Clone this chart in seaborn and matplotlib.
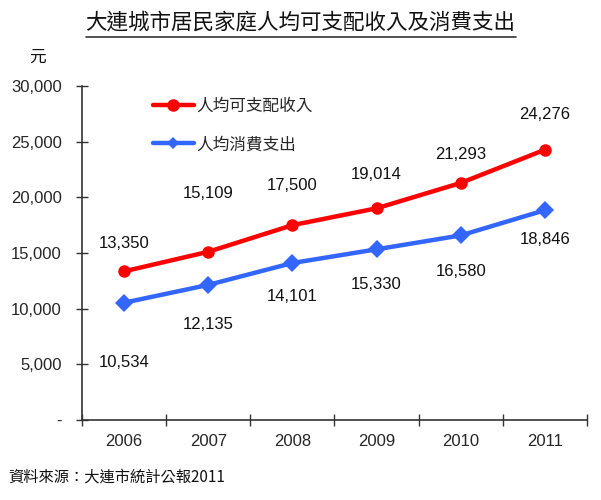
import matplotlib
matplotlib.use("Agg")
import matplotlib.pyplot as plt
import seaborn as sns
import pandas as pd
from matplotlib.lines import Line2D

years = ["2006", "2007", "2008", "2009", "2010", "2011"]
income = [13350, 15109, 17500, 19014, 21293, 24276]
spend = [10534, 12135, 14101, 15330, 16580, 18846]
series_names = ["人均可支配收入", "人均消費支出"]
ytick_vals = [0, 5000, 10000, 15000, 20000, 25000, 30000]
ytick_labels = ["-", "5,000", "10,000", "15,000", "20,000", "25,000", "30,000"]

sns.set_style("white")
plt.rcParams['font.family'] = ['Liberation Sans', 'Noto Sans CJK TC', 'DejaVu Sans']
CJK = ['Noto Sans CJK TC', 'DejaVu Sans']

df = pd.DataFrame({
    "x": list(range(len(years))) * 2,
    "value": income + spend,
    "series": [series_names[0]] * len(years) + [series_names[1]] * len(years),
})

fig = plt.figure(figsize=(6.01, 5.0), dpi=100)
ax = fig.add_axes([82 / 601, 80 / 500, (587 - 82) / 601, (420 - 86) / 500])

red = "#FF0000"
blue = "#3366FF"
sns.lineplot(data=df, x="x", y="value", hue="series", style="series",
             palette={series_names[0]: red, series_names[1]: blue},
             markers={series_names[0]: "o", series_names[1]: "D"},
             dashes=False, linewidth=3.2, markersize=9, markeredgewidth=0,
             legend=False, ax=ax)

ax.set_xlim(-0.5, len(years) - 0.5)
ax.set_ylim(0, 30000)
ax.set_xlabel("")
ax.set_ylabel("")

# category axis: ticks between categories, labels at centres
ax.set_xticks([i - 0.5 for i in range(len(years) + 1)])
ax.set_xticklabels([])
ax.set_xticks(range(len(years)), minor=True)
ax.set_xticklabels(years, minor=True, fontsize=12)
ax.tick_params(axis="x", which="major", bottom=True, direction="inout", length=9, width=1, color="#333333")
ax.tick_params(axis="x", which="minor", bottom=True, length=0, pad=10)
ax.set_yticks(ytick_vals)
ax.set_yticklabels(ytick_labels, fontsize=12)
ax.tick_params(axis="y", left=True, direction="inout", length=9, width=1, color="#333333", pad=10)

for s in ["top", "right"]:
    ax.spines[s].set_visible(False)
for s in ["left", "bottom"]:
    ax.spines[s].set_color("#333333")
    ax.spines[s].set_linewidth(1.2)

# data labels
inc_off = [28, 58, 40, 34, 28, 35]
spd_off = [60, 40, 33, 35, 36, 29]
for i, v in enumerate(income):
    ax.annotate(f"{v:,}", (i, v), xytext=(0, inc_off[i] * 0.72), textcoords="offset points",
                ha="center", va="center", fontsize=12, color="#111111")
for i, v in enumerate(spend):
    ax.annotate(f"{v:,}", (i, v), xytext=(0, -spd_off[i] * 0.72), textcoords="offset points",
                ha="center", va="center", fontsize=12, color="#111111")

handles = [Line2D([], [], color=red, lw=3.2, marker="o", markersize=9, markeredgewidth=0),
           Line2D([], [], color=blue, lw=3.2, marker="D", markersize=6, markeredgewidth=0)]
leg = ax.legend(handles, series_names, loc="upper left", bbox_to_anchor=(0.11, 1.01),
                frameon=False, handlelength=2.5, handletextpad=0.1, labelspacing=1.3,
                prop={"family": CJK, "size": 12})

# title with underline
title = fig.text(0.5, 1 - 23 / 500, "大連城市居民家庭人均可支配收入及消費支出", ha="center", va="center",
                 fontsize=15.5, family=CJK, color="#111111")
fig.canvas.draw()
bb = title.get_window_extent().transformed(fig.transFigure.inverted())
fig.add_artist(Line2D([bb.x0, bb.x1], [1 - 37 / 500, 1 - 37 / 500], transform=fig.transFigure,
                      color="#333333", lw=1.2))

fig.text(37 / 601, 1 - 57 / 500, "元", ha="center", va="center", fontsize=12, family=CJK, color="#111111")
fig.text(8 / 601, 1 - 477 / 500, "資料來源：大連市統計公報2011", ha="left", va="center", fontsize=11,
         family=CJK, color="#111111")

fig.savefig("out.png", dpi=100)
